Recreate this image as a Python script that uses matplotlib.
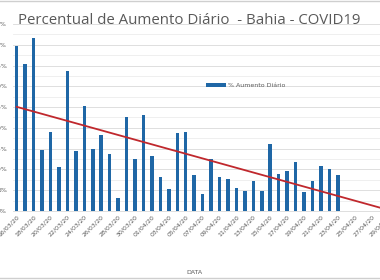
import datetime
import numpy as np
import matplotlib
matplotlib.use("Agg")
import matplotlib.pyplot as plt
from matplotlib.ticker import MultipleLocator, FuncFormatter

# daily increase (%), 16/03/20 .. 23/04/20
start = datetime.date(2020, 3, 16)
aumento = [39.6, 35.4, 41.7, 14.6, 19.0, 10.6, 33.8, 14.4, 25.2, 15.0,
           18.4, 13.8, 3.2, 22.6, 12.6, 23.0, 13.2, 8.2, 5.4, 18.8,
           19.0, 8.6, 4.2, 12.6, 8.2, 7.8, 5.6, 4.8, 7.2, 4.9,
           16.2, 9.0, 9.7, 11.8, 4.5, 7.2, 10.8, 10.1, 8.6]
n_days = 45  # axis runs until 29/04/20
tick_days = list(range(0, n_days, 2))
tick_labels = [(start + datetime.timedelta(days=d)).strftime("%d/%m/%y") for d in tick_days]

gray = "#595959"
blue = "#1f67a6"
red = "#c0282d"

fig = plt.figure(figsize=(3.8, 2.8), dpi=100)
ax = fig.add_axes([12.5 / 380, 69 / 280, 380.25 / 380, 187 / 280])

x = np.arange(len(aumento))
ax.bar(x, aumento, width=0.42, color=blue, label="% Aumento Diário", zorder=3)

# linear trend with forward forecast, like the excel trendline
coef = np.polyfit(x, aumento, 1)
xt = np.array([0, n_days - 0.5])
ax.plot(xt, np.polyval(coef, xt), color=red, lw=1.3, zorder=4)

ax.set_xlim(-0.5, n_days - 0.5)
ax.set_ylim(0, 45)
ax.yaxis.set_major_locator(MultipleLocator(5))
ax.yaxis.set_minor_locator(MultipleLocator(2.5))
ax.yaxis.set_major_formatter(FuncFormatter(lambda v, p: f"{v:.0f}%"))
ax.grid(axis="y", which="major", color="#d9d9d9", lw=0.6, zorder=0)
ax.grid(axis="y", which="minor", color="#ececec", lw=0.6, zorder=0)
ax.set_xticks(tick_days)
ax.set_xticklabels(tick_labels, rotation=45, ha="right", rotation_mode="anchor")
ax.tick_params(axis="both", which="both", length=0, labelsize=4.5, labelcolor=gray)
ax.tick_params(axis="y", pad=4)
ax.tick_params(axis="x", pad=2)
for s in ["top", "right", "left"]:
    ax.spines[s].set_visible(False)
ax.spines["bottom"].set_color("#d9d9d9")
ax.spines["bottom"].set_linewidth(0.6)

ax.legend(loc="upper left", bbox_to_anchor=(0.50, 0.70), frameon=False,
          fontsize=4.5, labelcolor=gray, handlelength=3.2, handleheight=0.5,
          handletextpad=0.3, borderpad=0)

fig.text(18 / 380, 1 - 20 / 280, "Percentual de Aumento Diário  - Bahia - COVID19",
         fontsize=10.8, color=gray, family="Open Sans", va="center", ha="left")
fig.text(194 / 380, 1 - 273 / 280, "DATA", fontsize=4.5, color=gray, ha="center", va="center")

# chart frame lines visible at top and bottom of the crop
fig.add_artist(plt.Line2D([0, 1], [1 - 1 / 280, 1 - 1 / 280], color="#cfcfcf", lw=1))
fig.add_artist(plt.Line2D([0, 1], [2 / 280, 2 / 280], color="#cfcfcf", lw=1))

fig.savefig("out.png", dpi=100)
